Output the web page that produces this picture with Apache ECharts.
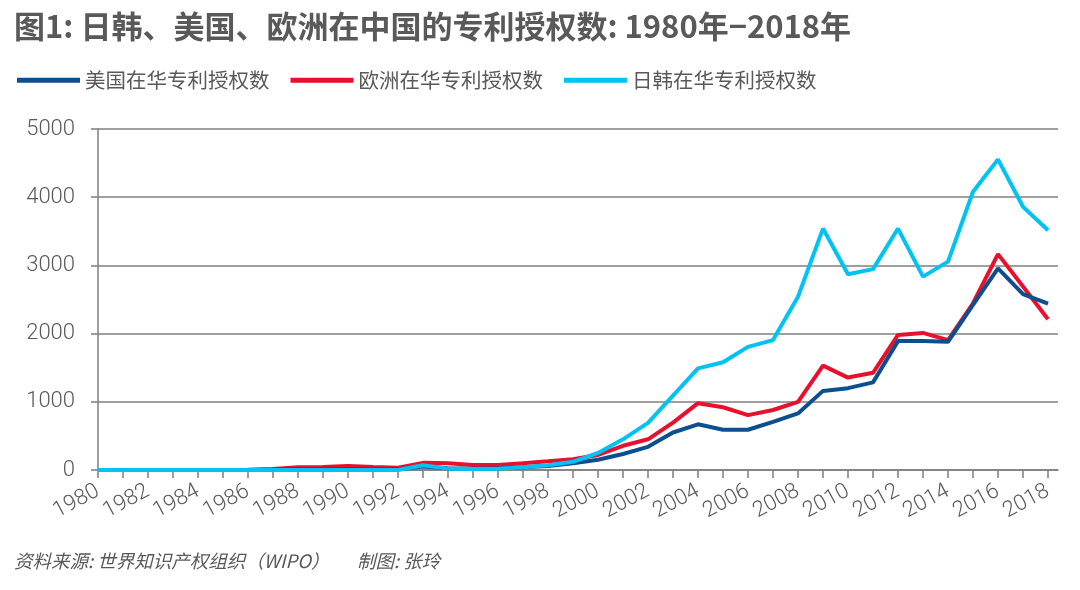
<!DOCTYPE html>
<html><head><meta charset="utf-8">
<script src="https://cdn.jsdelivr.net/npm/echarts@6/dist/echarts.min.js"></script>
<style>html,body{margin:0;padding:0;background:#fff}#c{width:1080px;height:590px}</style>
</head><body><div id="c"></div>
<script>
const years = [];
for (let y = 1980; y <= 2018; y++) years.push(y);
const usData = [0,0,0,0,0,0,0,5,10,12,15,12,10,50,25,20,25,40,60,100,150,235,340,550,670,590,590,705,830,1160,1200,1285,1890,1890,1880,2420,2955,2580,2440];
const euData = [0,0,0,0,0,0,5,15,40,44,59,44,34,105,98,73,73,98,127,157,220,355,450,695,980,920,805,880,1000,1530,1355,1425,1980,2010,1905,2445,3165,2690,2210];
const jkData = [0,0,0,0,0,0,0,0,0,0,0,0,0,70,20,15,20,40,70,120,250,450,690,1090,1490,1580,1805,1905,2540,3540,2870,2945,3540,2835,3055,4080,4555,3860,3515];
const yTicks = [0,1000,2000,3000,4000,5000];
const seriesNames = ['美国在华专利授权数','欧洲在华专利授权数','日韩在华专利授权数'];
const colors = ['#0B4F8F','#E8112D','#00C3F3'];
const txt = '#595959';
const numFont = 'Roboto, "Liberation Sans", sans-serif';
const pairs = arr => years.map((y,i)=>[y, arr[i]]);
const ch = echarts.init(document.getElementById('c'));
ch.setOption({
  animation:false,
  textStyle:{fontFamily:'"Noto Sans CJK SC","Noto Sans",sans-serif'},
  title:{text:'图1: 日韩、美国、欧洲在中国的专利授权数: 1980年−2018年',left:9,top:6,
    textStyle:{fontSize:31,fontWeight:'bold',color:txt,fontFamily:'"Noto Sans CJK SC",sans-serif'}},
  legend:{left:12,top:65,itemWidth:63,itemHeight:5,itemGap:21,icon:'rect',
    textStyle:{fontSize:20.5,color:txt},
    data:seriesNames},
  grid:{left:98,right:22,top:129,bottom:120},
  xAxis:{type:'value',min:years[0],max:years[years.length-1]+0.4,interval:1,
    splitLine:{show:false},
    axisLine:{lineStyle:{color:'#7f7f7f',width:1.5}},
    axisTick:{length:8,lineStyle:{color:'#7f7f7f',width:1.5}},
    axisLabel:{rotate:28,fontSize:22,fontWeight:300,fontFamily:numFont,color:txt,margin:20,
      showMaxLabel:false,
      formatter:v=>(Number.isInteger(v)&&v%2===0)?String(v):''}},
  yAxis:{type:'value',min:0,max:5000,interval:1000,
    axisLine:{show:true,lineStyle:{color:'#7f7f7f',width:1.5}},
    axisTick:{show:true,length:7,lineStyle:{color:'#7f7f7f',width:1.5}},
    splitLine:{lineStyle:{color:'#7f7f7f',width:1.5}},
    axisLabel:{fontSize:22,fontWeight:300,fontFamily:numFont,color:txt,margin:23,formatter:v=>String(v)}},
  series:[
    {name:seriesNames[0],type:'line',data:pairs(usData),symbol:'none',z:3,lineStyle:{width:4,color:colors[0]},itemStyle:{color:colors[0]}},
    {name:seriesNames[1],type:'line',data:pairs(euData),symbol:'none',z:2,lineStyle:{width:4,color:colors[1]},itemStyle:{color:colors[1]}},
    {name:seriesNames[2],type:'line',data:pairs(jkData),symbol:'none',z:4,lineStyle:{width:4,color:colors[2]},itemStyle:{color:colors[2]}}
  ],
  graphic:[
    {type:'text',left:14,top:552,style:{text:'资料来源: 世界知识产权组织（WIPO）',fontSize:18.5,fill:txt,fontStyle:'italic',fontFamily:'"Noto Sans CJK SC",sans-serif'}},
    {type:'text',left:357,top:552,style:{text:'制图: 张玲',fontSize:18.5,fill:txt,fontStyle:'italic',fontFamily:'"Noto Sans CJK SC",sans-serif'}}
  ]
});
</script></body></html>
